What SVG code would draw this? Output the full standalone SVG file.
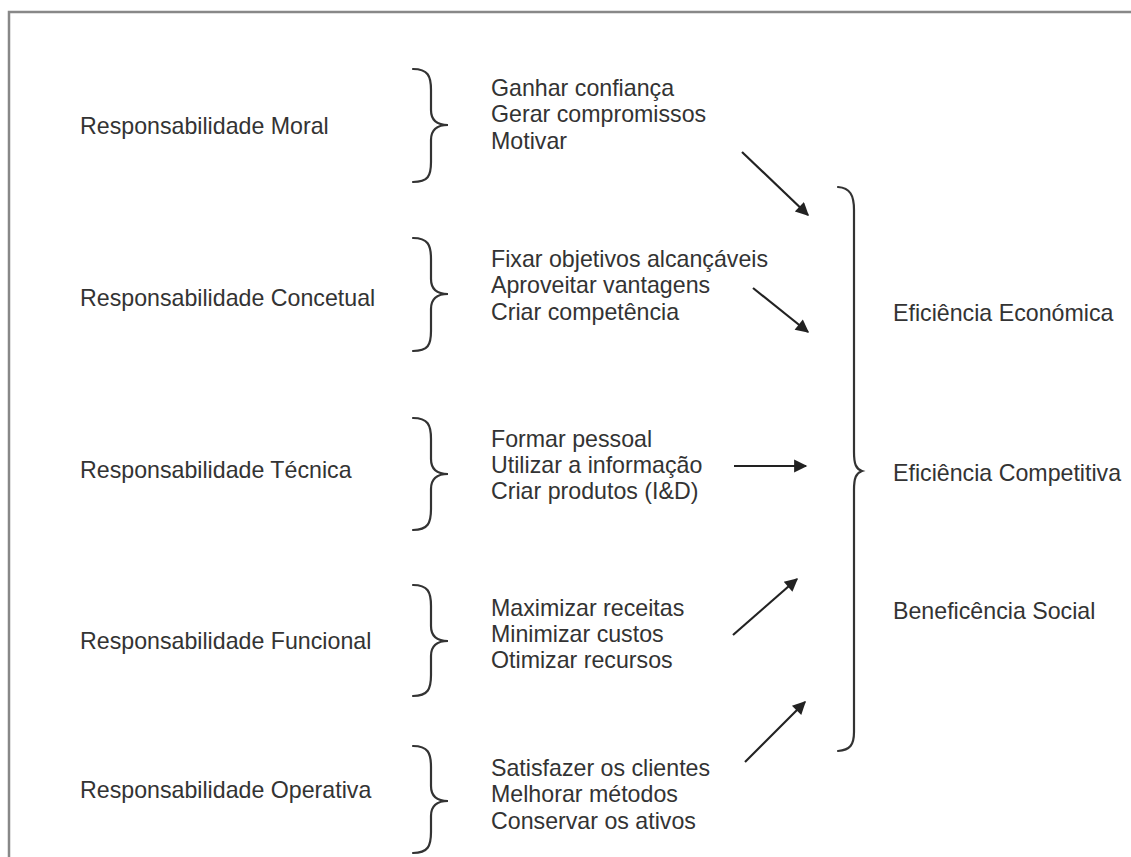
<svg xmlns="http://www.w3.org/2000/svg" width="1131" height="857" viewBox="0 0 1131 857">
<defs>
<style>
text{font-family:"Liberation Sans",Arial,sans-serif;font-size:23.2px;fill:#333}
.brace{fill:none;stroke:#333;stroke-width:2.2;stroke-linecap:round}
.conn{fill:none;stroke:#222;stroke-width:2.2;marker-end:url(#ah)}
</style>
<marker id="ah" viewBox="0 0 10 10" refX="9" refY="5" markerWidth="7" markerHeight="6" markerUnits="strokeWidth" orient="auto">
<path d="M0,0 L10,5 L0,10 z" fill="#222"/>
</marker>
</defs>
<rect width="1131" height="857" fill="#fff"/>
<path d="M9,857 L9,12 L1131,12" fill="none" stroke="#888" stroke-width="2.5"/>
<g id="moral">
<text x="80" y="134">Responsabilidade Moral</text>
<path class="brace" d="M413,69 C428,69 431,76 431,90 L431,110 C431,120 436,125 448,125 C436,125 431,130 431,140 L431,162 C431,176 428,182 413,182"/>
<text x="491" y="96">Ganhar confiança</text>
<text x="491" y="122">Gerar compromissos</text>
<text x="491" y="149">Motivar</text>
</g>
<g id="concetual">
<text x="80" y="306">Responsabilidade Concetual</text>
<path class="brace" d="M413,238 C428,238 431,245 431,259 L431,279 C431,289 436,294 448,294 C436,294 431,299 431,309 L431,331 C431,345 428,351 413,351"/>
<text x="491" y="267">Fixar objetivos alcançáveis</text>
<text x="491" y="293">Aproveitar vantagens</text>
<text x="491" y="320">Criar competência</text>
</g>
<g id="tecnica">
<text x="80" y="478">Responsabilidade Técnica</text>
<path class="brace" d="M413,418 C428,418 431,425 431,439 L431,459 C431,469 436,474 448,474 C436,474 431,479 431,489 L431,509 C431,523 428,530 413,530"/>
<text x="491" y="447">Formar pessoal</text>
<text x="491" y="473">Utilizar a informação</text>
<text x="491" y="499">Criar produtos (I&amp;D)</text>
</g>
<g id="funcional">
<text x="80" y="649">Responsabilidade Funcional</text>
<path class="brace" d="M413,585 C428,585 431,592 431,606 L431,626 C431,636 436,641 448,641 C436,641 431,646 431,656 L431,675 C431,689 428,696 413,696"/>
<text x="491" y="616">Maximizar receitas</text>
<text x="491" y="642">Minimizar custos</text>
<text x="491" y="668">Otimizar recursos</text>
</g>
<g id="operativa">
<text x="80" y="798">Responsabilidade Operativa</text>
<path class="brace" d="M413,746 C428,746 431,753 431,767 L431,786 C431,796 436,801 448,801 C436,801 431,806 431,816 L431,832 C431,846 428,853 413,853"/>
<text x="491" y="776">Satisfazer os clientes</text>
<text x="491" y="802">Melhorar métodos</text>
<text x="491" y="829">Conservar os ativos</text>
</g>
<g id="resultados">
<path class="brace" d="M838,187 C850,188 854,195 854,210 L854,452 C854,464 856,469 862,471 C856,473 854,478 854,490 L854,732 C854,745 850,750 838,751"/>
<text x="893" y="321">Eficiência Económica</text>
<text x="893" y="481">Eficiência Competitiva</text>
<text x="893" y="619">Beneficência Social</text>
</g>
<g id="connectors">
<path class="conn" d="M742,152 L808,215"/>
<path class="conn" d="M753,288 L808,332"/>
<path class="conn" d="M734,466 L806,466"/>
<path class="conn" d="M733,635 L797,579"/>
<path class="conn" d="M745,762 L805,702"/>
</g>
</svg>
